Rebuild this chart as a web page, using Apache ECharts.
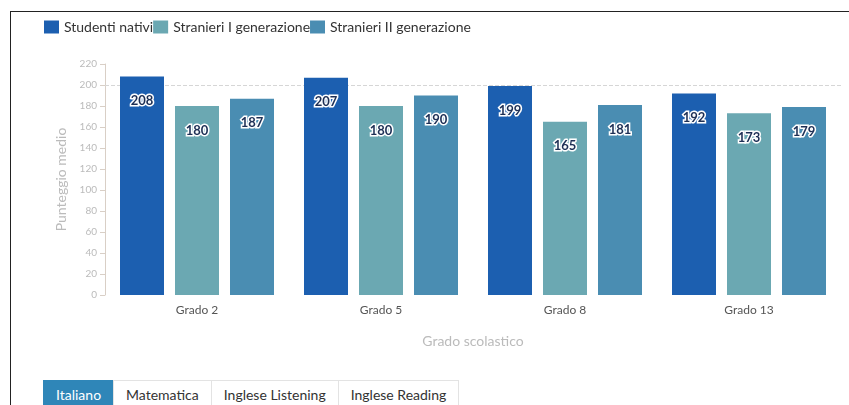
<!DOCTYPE html>
<html>
<head>
<meta charset="utf-8">
<script src="https://cdn.jsdelivr.net/npm/echarts@6/dist/echarts.min.js"></script>
<style>
  html, body { margin: 0; padding: 0; background: #fff; }
  #wrap { position: relative; width: 849px; height: 405px; overflow: hidden; font-family: Lato, "Noto Sans", sans-serif; }
  #frame { position: absolute; left: 10px; top: 11px; right: -2px; bottom: -2px; border-top: 1px solid #222; border-left: 1px solid #222; }
  #chart { position: absolute; left: 0; top: 0; width: 849px; height: 405px; }
  .tabs { position: absolute; left: 43px; top: 380px; display: flex; }
  .tab { height: 26px; line-height: 27px; padding: 0 12px; font-size: 14px; color: #333; border: 1px solid #e3e3e3; border-bottom: none; margin-right: -1px; background: #fff; }
  .tab.active { background: #2f86b8; color: #fff; border-color: #2f86b8; }
</style>
</head>
<body>
<div id="wrap">
  <div id="frame"></div>
  <div id="chart"></div>
  <div class="tabs">
    <div class="tab active">Italiano</div>
    <div class="tab">Matematica</div>
    <div class="tab">Inglese Listening</div>
    <div class="tab">Inglese Reading</div>
  </div>
</div>
<script>
// dati
const categories = ['Grado 2', 'Grado 5', 'Grado 8', 'Grado 13'];
const seriesNames = ['Studenti nativi', 'Stranieri I generazione', 'Stranieri II generazione'];
const nativi = [208, 207, 199, 192];
const stranieri1 = [180, 180, 165, 173];
const stranieri2 = [187, 190, 181, 179];
const colors = ['#1c5fb0', '#6ba8b2', '#4a8db2'];
const refLine = 200;

const chart = echarts.init(document.getElementById('chart'));

function barSeries (name, data, color, extra) {
    let s = {
        name: name,
        type: 'bar',
        data: data,
        barWidth: 44,
        barGap: '25%',
        itemStyle: { color: color },
        label: {
            show: true,
            position: 'insideTop',
            distance: 18,
            fontFamily: 'Lato',
            fontSize: 13,
            fontWeight: 'bold',
            color: '#1d2f55',
            textBorderColor: '#fff',
            textBorderWidth: 3
        },
        z: 2
    }
    return Object.assign(s, extra || {})
}

chart.setOption({
    animation: false,
    textStyle: { fontFamily: 'Lato' },
    color: colors,
    legend: {
        left: 44,
        top: 20,
        padding: 0,
        itemWidth: 15,
        itemHeight: 13,
        itemGap: 0,
        icon: 'rect',
        textStyle: { fontSize: 14, color: '#333', fontFamily: 'Lato' },
        data: seriesNames
    },
    grid: { left: 105, right: 8, top: 64, bottom: 110, containLabel: false },
    xAxis: {
        type: 'category',
        data: categories,
        name: 'Grado scolastico',
        nameLocation: 'middle',
        nameGap: 39,
        nameTextStyle: { color: '#bbb', fontSize: 14 },
        axisLine: { show: false },
        axisTick: { show: false },
        axisLabel: { color: '#555', fontSize: 12, margin: 9 }
    },
    yAxis: {
        type: 'value',
        min: 0,
        max: 220,
        interval: 20,
        name: 'Punteggio medio',
        nameLocation: 'middle',
        nameGap: 36,
        nameTextStyle: { color: '#bbb', fontSize: 14 },
        axisLine: { show: true, lineStyle: { color: '#d9cfc6' } },
        axisTick: { show: true, length: 5, lineStyle: { color: '#d9cfc6' } },
        axisLabel: { color: '#bbb', fontSize: 10, margin: 8 },
        splitLine: { show: false }
    },
    series: [
        barSeries(seriesNames[0], nativi, colors[0], {
            markLine: {
                silent: true,
                z: 1,
                symbol: 'none',
                label: { show: false },
                lineStyle: { type: 'dashed', color: '#d6d6d6', width: 1 },
                data: [{ yAxis: refLine }]
            }
        }),
        barSeries(seriesNames[1], stranieri1, colors[1]),
        barSeries(seriesNames[2], stranieri2, colors[2])
    ]
});
</script>
</body>
</html>
